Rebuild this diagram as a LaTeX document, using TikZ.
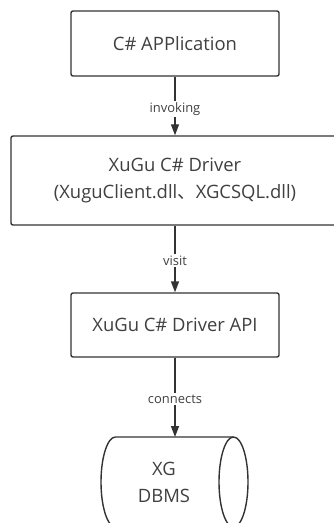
\documentclass[tikz,border=0pt]{standalone}
\usepackage{fontspec}
\setmainfont{Open Sans}
\newfontfamily\cjk{Noto Sans CJK SC}
\usetikzlibrary{arrows.meta}
\definecolor{linec}{HTML}{333333}
\definecolor{textc}{HTML}{404040}
\tikzset{
  box/.style={draw=linec, line width=1.4bp, rounded corners=2bp, fill=white, text=textc, font=\fontsize{18.5}{27}\selectfont, align=center, inner sep=0pt},
  conn/.style={draw=linec, line width=1.4bp, -{Triangle[length=11bp,width=8bp]}},
  lbl/.style={fill=white, text=textc, font=\fontsize{13}{14}\selectfont, inner sep=1.5bp},
  dbline/.style={draw=linec, line width=1.4bp}
}
\begin{document}
\begin{tikzpicture}[x=1bp,y=-1bp]
\useasboundingbox (0,0) rectangle (333,523);
\node[box, minimum width=208bp, minimum height=65bp] (app) at (175,43.5) {C\# APPlication};
\node[box, minimum width=328bp, minimum height=89bp] (drv) at (175,180.5) {XuGu C\# Driver\\(XuguClient.dll{\cjk 、}XGCSQL.dll)};
\node[box, minimum width=208bp, minimum height=64bp] (api) at (175,325) {XuGu C\# Driver API};
\draw[dbline] (233.5,482) ellipse[x radius=14.5, y radius=45];
\draw[dbline] (233.5,437) -- (115.5,437) arc[start angle=270, end angle=90, x radius=14.5, y radius=45] -- (233.5,527);
\node[text=textc, font=\fontsize{18.5}{27}\selectfont, align=center] (db) at (164,482) {XG\\DBMS};
\coordinate (dbtop) at (175,437);
\draw[conn] (app.south) -- node[lbl, pos=0.55] {invoking} (drv.north);
\draw[conn] (drv.south) -- node[lbl, pos=0.52] {visit} (api.north);
\draw[conn] (api.south) -- node[lbl, pos=0.52] {connects} (dbtop);
\end{tikzpicture}
\end{document}
